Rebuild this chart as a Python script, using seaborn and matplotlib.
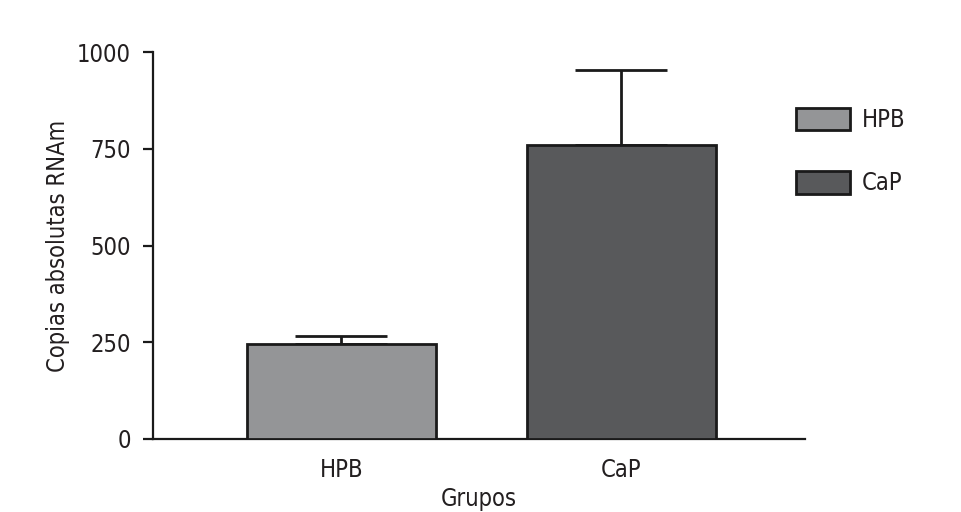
import matplotlib
matplotlib.use("Agg")
import matplotlib.pyplot as plt
import seaborn as sns
import pandas as pd

# values
groups = ["HPB", "CaP"]
means = [245, 760]
err_up = [20, 193]
colors = ["#939598", "#58595b"]

sns.set_style("white")
plt.rcParams['font.family'] = ['DejaVu Sans']
plt.rcParams['font.stretch'] = 'condensed'
plt.rcParams['text.color'] = '#231f20'
plt.rcParams['axes.labelcolor'] = '#231f20'
plt.rcParams['xtick.color'] = '#231f20'
plt.rcParams['ytick.color'] = '#231f20'

df = pd.DataFrame({"grupo": groups, "copias": means})

fig = plt.figure(figsize=(9.62, 5.12), dpi=100)
ax = fig.add_axes([0.159, 0.1426, 0.678, 0.7558])

sns.barplot(data=df, x="grupo", y="copias", hue="grupo", palette=colors,
            width=0.676, edgecolor="#1a1a1a", linewidth=2, errorbar=None,
            legend=True, ax=ax, zorder=3)
ax.errorbar(range(len(groups)), means, yerr=[[0] * len(groups), err_up],
            fmt="none", ecolor="#1a1a1a", elinewidth=2, capsize=33,
            capthick=2, zorder=2)

ax.set_xlim(-0.674, 1.658)
ax.set_ylim(0, 1000)
ax.set_yticks([0, 250, 500, 750, 1000])
sns.despine(ax=ax)
for s in ["left", "bottom"]:
    ax.spines[s].set_linewidth(1.6)
    ax.spines[s].set_color("#1a1a1a")
ax.tick_params(axis="y", length=7, width=1.6, color="#1a1a1a",
               labelsize=17, pad=9, left=True)
ax.tick_params(axis="x", length=0, labelsize=17, pad=14)
ax.set_xlabel("Grupos", fontsize=17, labelpad=3)
ax.set_ylabel("Copias absolutas RNAm", fontsize=17, labelpad=5)

sns.move_legend(ax, "upper left", bbox_to_anchor=(0.8274, 0.79),
                bbox_transform=fig.transFigure, frameon=False, title=None,
                fontsize=17, handlelength=2.3, handleheight=1.1,
                labelspacing=1.65, handletextpad=0.5, borderpad=0,
                borderaxespad=0)

fig.savefig("out.png", dpi=100)
